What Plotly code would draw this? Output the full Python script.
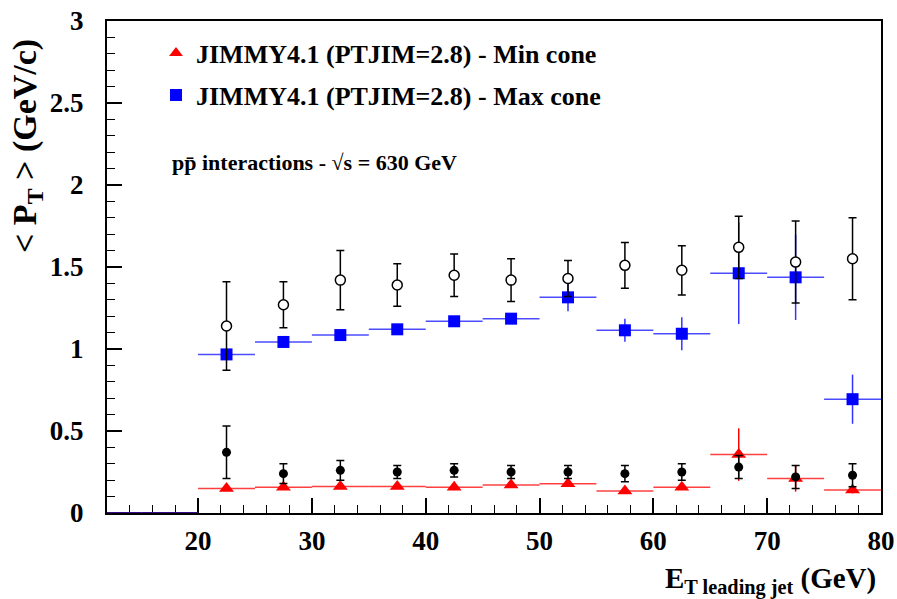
import plotly.graph_objects as go

# ---- data ----
bin_centers = [22.5, 27.5, 32.5, 37.5, 42.5, 47.5, 52.5, 57.5, 62.5, 67.5, 72.5, 77.5]
bin_half_width = 2.5
empty_bin_centers = [12.5, 17.5]
empty_bin_values = [0, 0]

data_max = [1.14, 1.27, 1.42, 1.39, 1.45, 1.42, 1.43, 1.51, 1.48, 1.62, 1.53, 1.55]
data_max_err = [0.27, 0.14, 0.18, 0.13, 0.13, 0.13, 0.11, 0.14, 0.15, 0.19, 0.25, 0.25]

data_min = [0.37, 0.24, 0.26, 0.25, 0.26, 0.25, 0.25, 0.24, 0.25, 0.28, 0.22, 0.23]
data_min_err = [0.16, 0.06, 0.06, 0.04, 0.04, 0.04, 0.04, 0.05, 0.05, 0.07, 0.07, 0.07]

jimmy_max = [0.967, 1.043, 1.085, 1.12, 1.169, 1.185, 1.315, 1.114, 1.093, 1.462, 1.437, 0.694]
jimmy_max_err = [0.02, 0.01, 0.01, 0.01, 0.02, 0.02, 0.085, 0.07, 0.10, 0.31, 0.26, 0.15]

jimmy_min = [0.15, 0.157, 0.161, 0.161, 0.157, 0.171, 0.179, 0.134, 0.157, 0.356, 0.21, 0.14]
jimmy_min_err = [0.01, 0.01, 0.01, 0.01, 0.01, 0.01, 0.01, 0.01, 0.01, 0.16, 0.08, 0.02]

legend_min = "JIMMY4.1 (PTJIM=2.8) - Min cone"
legend_max = "JIMMY4.1 (PTJIM=2.8) - Max cone"
annotation_text = "pp\u0304 interactions - \u221as = 630 GeV"

FONT = "Liberation Serif"
RED = "#ff0000"
BLUE = "#0000ff"

W, H = 897, 599
ML, MR, MT, MB = 107, 16, 21, 86
PW, PH = W - ML - MR, H - MT - MB


def px_x(img_x):
    return (img_x - ML) / PW


def px_y(img_y):
    return (H - MB - img_y) / PH


fig = go.Figure()

# empty bins (red + blue overlapping at zero)
fig.add_trace(go.Scatter(
    x=empty_bin_centers, y=empty_bin_values, mode="markers",
    marker=dict(size=0.1, color="rgba(0,0,0,0)"),
    error_x=dict(type="constant", value=bin_half_width, color="#3a0a8a", thickness=2, width=0),
    showlegend=False, hoverinfo="skip"))

# JIMMY min cone (red)
fig.add_trace(go.Scatter(
    x=bin_centers, y=jimmy_min, mode="markers", name=legend_min, legend="legend",
    marker=dict(symbol="triangle-up", size=13, color=RED),
    error_x=dict(type="constant", value=bin_half_width, color="rgba(255,0,0,0.75)", thickness=1.5, width=0),
    error_y=dict(type="data", array=jimmy_min_err, color=RED, thickness=1.5, width=0)))

# JIMMY max cone (blue)
fig.add_trace(go.Scatter(
    x=bin_centers, y=jimmy_max, mode="markers", name=legend_max, legend="legend2",
    marker=dict(symbol="square", size=12, color=BLUE),
    error_x=dict(type="constant", value=bin_half_width, color="rgba(0,0,255,0.7)", thickness=1.5, width=0),
    error_y=dict(type="data", array=jimmy_max_err, color="rgba(0,0,255,0.8)", thickness=1.5, width=0)))

# data min cone (black filled)
fig.add_trace(go.Scatter(
    x=bin_centers, y=data_min, mode="markers", showlegend=False,
    marker=dict(symbol="circle", size=9, color="black"),
    error_y=dict(type="data", array=data_min_err, color="black", thickness=1.5, width=4)))

# data max cone (black open)
fig.add_trace(go.Scatter(
    x=bin_centers, y=data_max, mode="markers", showlegend=False,
    marker=dict(symbol="circle", size=10, color="white", line=dict(color="black", width=1.5)),
    error_y=dict(type="data", array=data_max_err, color="black", thickness=1.5, width=4)))

legend_common = dict(xanchor="left", yanchor="middle", bgcolor="rgba(0,0,0,0)",
                     font=dict(size=26, family=FONT, weight="bold"), itemsizing="constant")

fig.update_layout(
    width=W, height=H,
    margin=dict(l=ML, r=MR, t=MT, b=MB, autoexpand=False),
    paper_bgcolor="white", plot_bgcolor="white",
    font=dict(family=FONT, color="black", size=20, weight="bold"),
    showlegend=True,
    legend=dict(x=px_x(156), y=px_y(53), **legend_common),
    legend2=dict(x=px_x(156), y=px_y(95), **legend_common),
    xaxis=dict(range=[12, 80], tick0=0, dtick=10, ticks="inside", ticklen=15, tickwidth=1.5,
               tickcolor="black", showline=True, linecolor="black", linewidth=2, mirror=True,
               showgrid=False, zeroline=False, layer="below traces", automargin=False,
               ticklabeloverflow="allow",
               tickfont=dict(size=27, family=FONT, weight="bold"), ticklabelstandoff=3,
               minor=dict(dtick=2, tick0=0, ticks="inside", ticklen=8, tickcolor="black", tickwidth=1)),
    yaxis=dict(range=[0, 3], tick0=0, dtick=0.5, ticks="inside", ticklen=15, tickwidth=1.5,
               tickcolor="black", showline=True, linecolor="black", linewidth=2, mirror=True,
               showgrid=False, zeroline=False, layer="below traces", automargin=False,
               ticklabeloverflow="allow",
               tickfont=dict(size=27, family=FONT, weight="bold"), ticklabelstandoff=16,
               minor=dict(dtick=0.1, tick0=0, ticks="inside", ticklen=8, tickcolor="black", tickwidth=1)),
    annotations=[
        dict(text=annotation_text, x=px_x(170), y=px_y(162), xref="paper", yref="paper",
             xanchor="left", yanchor="middle", showarrow=False,
             font=dict(size=22, family=FONT, weight="bold")),
        dict(text="E<sub>T leading jet</sub> (GeV)", xref="paper", yref="paper",
             x=px_x(878), y=px_y(580), xanchor="right", yanchor="middle", showarrow=False,
             font=dict(size=29, family=FONT, weight="bold")),
        dict(text="< P<sub>T</sub> > (GeV/c)", xref="paper", yref="paper",
             x=px_x(27), y=px_y(146), xanchor="center", yanchor="middle", textangle=-90, showarrow=False,
             font=dict(size=34, family=FONT, weight="bold")),
    ],
)

fig.write_html("out.html", config={"displayModeBar": False},
               post_script="document.body.style.margin='0px';")
